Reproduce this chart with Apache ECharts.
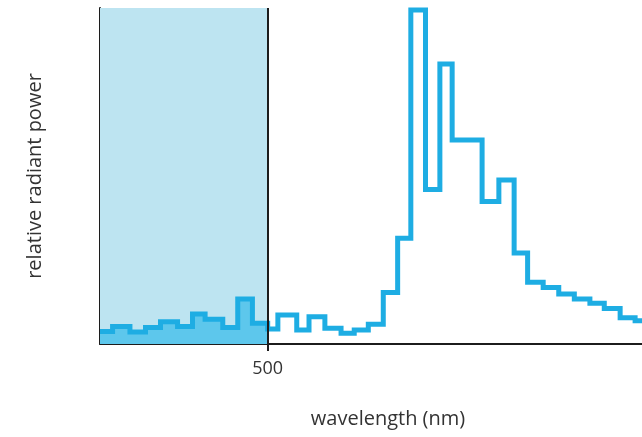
<!DOCTYPE html>
<html>
<head>
<meta charset="utf-8">
<script src="https://cdn.jsdelivr.net/npm/echarts@6/dist/echarts.min.js"></script>
<style>
  html, body { margin: 0; padding: 0; background: #fff; }
  #chart { width: 642px; height: 437px; }
</style>
</head>
<body>
<div id="chart"></div>
<script>
// bin start wavelengths (nm)
const binStarts = [
  444, 448.2, 454.0, 459.2, 464.2, 469.9, 474.9, 479.1, 485.0, 490.0, 494.9,
  500, 503.4, 509.7, 513.8, 519.1, 524.5, 528.9, 533.6, 538.6, 543.4,
  547.8, 552.7, 557.5, 561.6, 571.6, 577.2, 582.3, 586.8, 592.0, 597.2,
  602.4, 607.6, 612.4, 617.7, 622.7
];
// relative radiant power for each bin (0-100)
const power = [
  3.7, 5.2, 3.6, 4.9, 6.6, 5.2, 8.9, 7.4, 4.9, 13.4, 6.2,
  4.5, 8.6, 4.2, 8.1, 4.7, 3.2, 4.2, 5.9, 15.3, 31.5,
  99.4, 46.0, 83.3, 60.7, 42.4, 48.8, 27.1, 18.4, 16.8, 14.9,
  13.4, 12.1, 10.6, 7.8, 6.9
];
const xMin = 444;
const xMax = 625;
const bandEnd = 500;   // highlighted band: xMin .. 500 nm
const tickValues = [500];

// step pairs, with a closing point at the right edge
const stepData = binStarts.map((x, i) => [x, power[i]]);
stepData.push([xMax, power[power.length - 1]]);

// part of the curve inside the band (for the filled area)
const bandData = stepData.filter(d => d[0] < bandEnd);
bandData.push([bandEnd, bandData[bandData.length - 1][1]]);

const lineColor = '#1eade3';
const axisColor = '#1c1c1c';
const textFont = 'Open Sans';

const chart = echarts.init(document.getElementById('chart'));

chart.setOption({
  animation: false,
  grid: { left: 100, right: 0, top: 8, bottom: 93 },
  xAxis: {
    type: 'value',
    min: xMin,
    max: xMax,
    name: 'wavelength (nm)',
    nameLocation: 'middle',
    nameGap: 65,
    nameTextStyle: { color: '#333', fontSize: 20, fontFamily: textFont, padding: [0, 0, 0, 34] },
    splitLine: { show: false },
    axisLine: { lineStyle: { color: axisColor, width: 2 } },
    axisTick: { customValues: tickValues, length: 7, lineStyle: { color: axisColor, width: 2 } },
    axisLabel: { customValues: tickValues, margin: 16, color: '#333', fontSize: 18, fontFamily: textFont }
  },
  yAxis: {
    type: 'value',
    min: 0,
    max: 100,
    name: 'relative radiant power',
    nameLocation: 'middle',
    nameGap: 55,
    nameTextStyle: { color: '#333', fontSize: 20, fontFamily: textFont },
    splitLine: { show: false },
    axisLine: { show: true, lineStyle: { color: axisColor, width: 2 } },
    axisTick: { show: false },
    axisLabel: { show: false }
  },
  series: [
    {
      // filled part of the spectrum inside the band
      type: 'line',
      z: 2,
      step: 'end',
      symbol: 'none',
      data: bandData,
      lineStyle: { width: 0 },
      areaStyle: { color: '#5dc7ec', opacity: 1 },
      markArea: {
        silent: true,
        itemStyle: { color: '#bde4f1' },
        data: [[{ xAxis: xMin }, { xAxis: bandEnd }]]
      },
      markLine: {
        silent: true,
        symbol: 'none',
        label: { show: false },
        lineStyle: { color: axisColor, width: 2, type: 'solid' },
        data: [{ xAxis: bandEnd }]
      }
    },
    {
      type: 'line',
      z: 3,
      step: 'end',
      symbol: 'none',
      clip: false,
      data: stepData,
      lineStyle: { color: lineColor, width: 5, join: 'miter' }
    }
  ]
});
</script>
</body>
</html>
